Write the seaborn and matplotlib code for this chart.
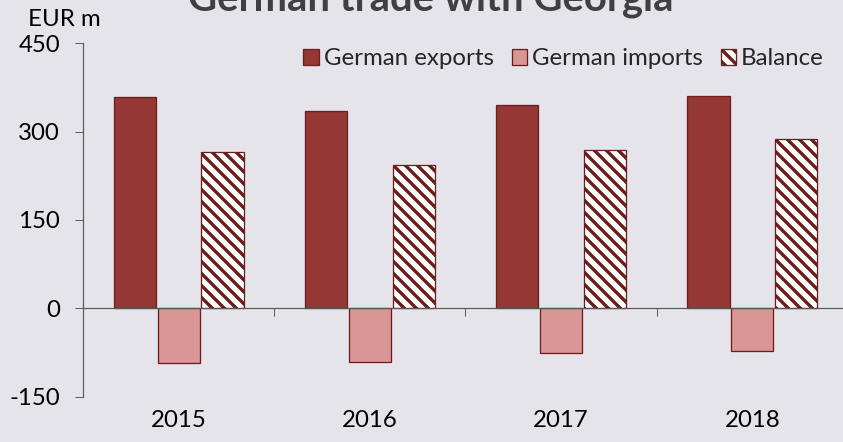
import matplotlib
matplotlib.use("Agg")
import matplotlib.pyplot as plt
import matplotlib.transforms as mtransforms
import seaborn as sns
import pandas as pd

# Trade figures, EUR million
years = ["2015", "2016", "2017", "2018"]
series = ["German exports", "German imports", "Balance"]
exports = [359, 334, 345, 360]
imports = [-93, -91, -76, -72]
balance = [266, 243, 269, 288]
yticks = [-150, 0, 150, 300, 450]

bg = "#E6E4EB"
dark_red = "#6C1E1E"
face_colors = {"German exports": "#953735", "German imports": "#DA9694", "Balance": "#FFFFFF"}

sns.set_style("ticks")
plt.rcParams["font.family"] = ["Lato", "DejaVu Sans"]
plt.rcParams["hatch.linewidth"] = 3.4
plt.rcParams["hatch.color"] = dark_red

df = pd.DataFrame({
    "year": years * 3,
    "series": [s for s in series for _ in years],
    "value": exports + imports + balance,
})

W, H = 843, 442
fig = plt.figure(figsize=(W / 72, H / 72), dpi=72, facecolor=bg)
ax = fig.add_axes([83 / W, (H - 396.7) / H, (848 - 83) / W, (396.7 - 43.1) / H])
ax.set_facecolor(bg)

sns.barplot(data=df, x="year", y="value", hue="series", hue_order=series,
            palette=face_colors, width=0.69, gap=0.04, ax=ax,
            edgecolor=dark_red, linewidth=1.3, saturation=1, legend=False)

# hatched balance bars
for patch in ax.containers[2].patches:
    patch.set_hatch("\\\\")
    patch.set_facecolor("white")

ax.set_ylim(-150, 450)
ax.set_xlim(-0.5, len(years) - 0.5)
ax.set_yticks(yticks)
ax.set_yticklabels([str(v) for v in yticks], fontsize=24, color="black")
ax.tick_params(axis="y", length=8, width=1, color="#595959", pad=15)

# category axis sits on the zero line; labels stay at the bottom
ax.spines["bottom"].set_position(("data", 0))
ax.spines["top"].set_visible(False)
ax.spines["right"].set_visible(False)
for s in ("left", "bottom"):
    ax.spines[s].set_color("#595959")
    ax.spines[s].set_linewidth(1.2)
ax.set_xticks([i - 0.5 for i in range(1, len(years))], minor=False)
ax.set_xticklabels([])
ax.tick_params(axis="x", which="major", length=8, width=1, color="#595959")
trans = mtransforms.blended_transform_factory(ax.transData, ax.transAxes)
for i, y in enumerate(years):
    ax.text(i, -0.068, y, transform=trans, ha="center", va="center", fontsize=24, color="black")
ax.set_xlabel("")
ax.set_ylabel("")

fig.text(64 / W, (H - 20) / H, "EUR m", ha="center", va="center", fontsize=24, color="black")
fig.text(431 / W, (H - 10) / H, "German trade with Georgia", ha="center", va="baseline",
         fontsize=40, fontweight="bold", color="#404040")

handles = [c.patches[0] for c in ax.containers]
ax.legend(handles, series, loc="upper right", bbox_to_anchor=(824 / W, (H - 48) / H),
          bbox_transform=fig.transFigure, ncol=3, frameon=False, fontsize=24,
          handlelength=0.65, handleheight=0.65, handletextpad=0.2,
          columnspacing=0.75, borderpad=0, borderaxespad=0)

fig.savefig("out.png", dpi=72, facecolor=bg)
